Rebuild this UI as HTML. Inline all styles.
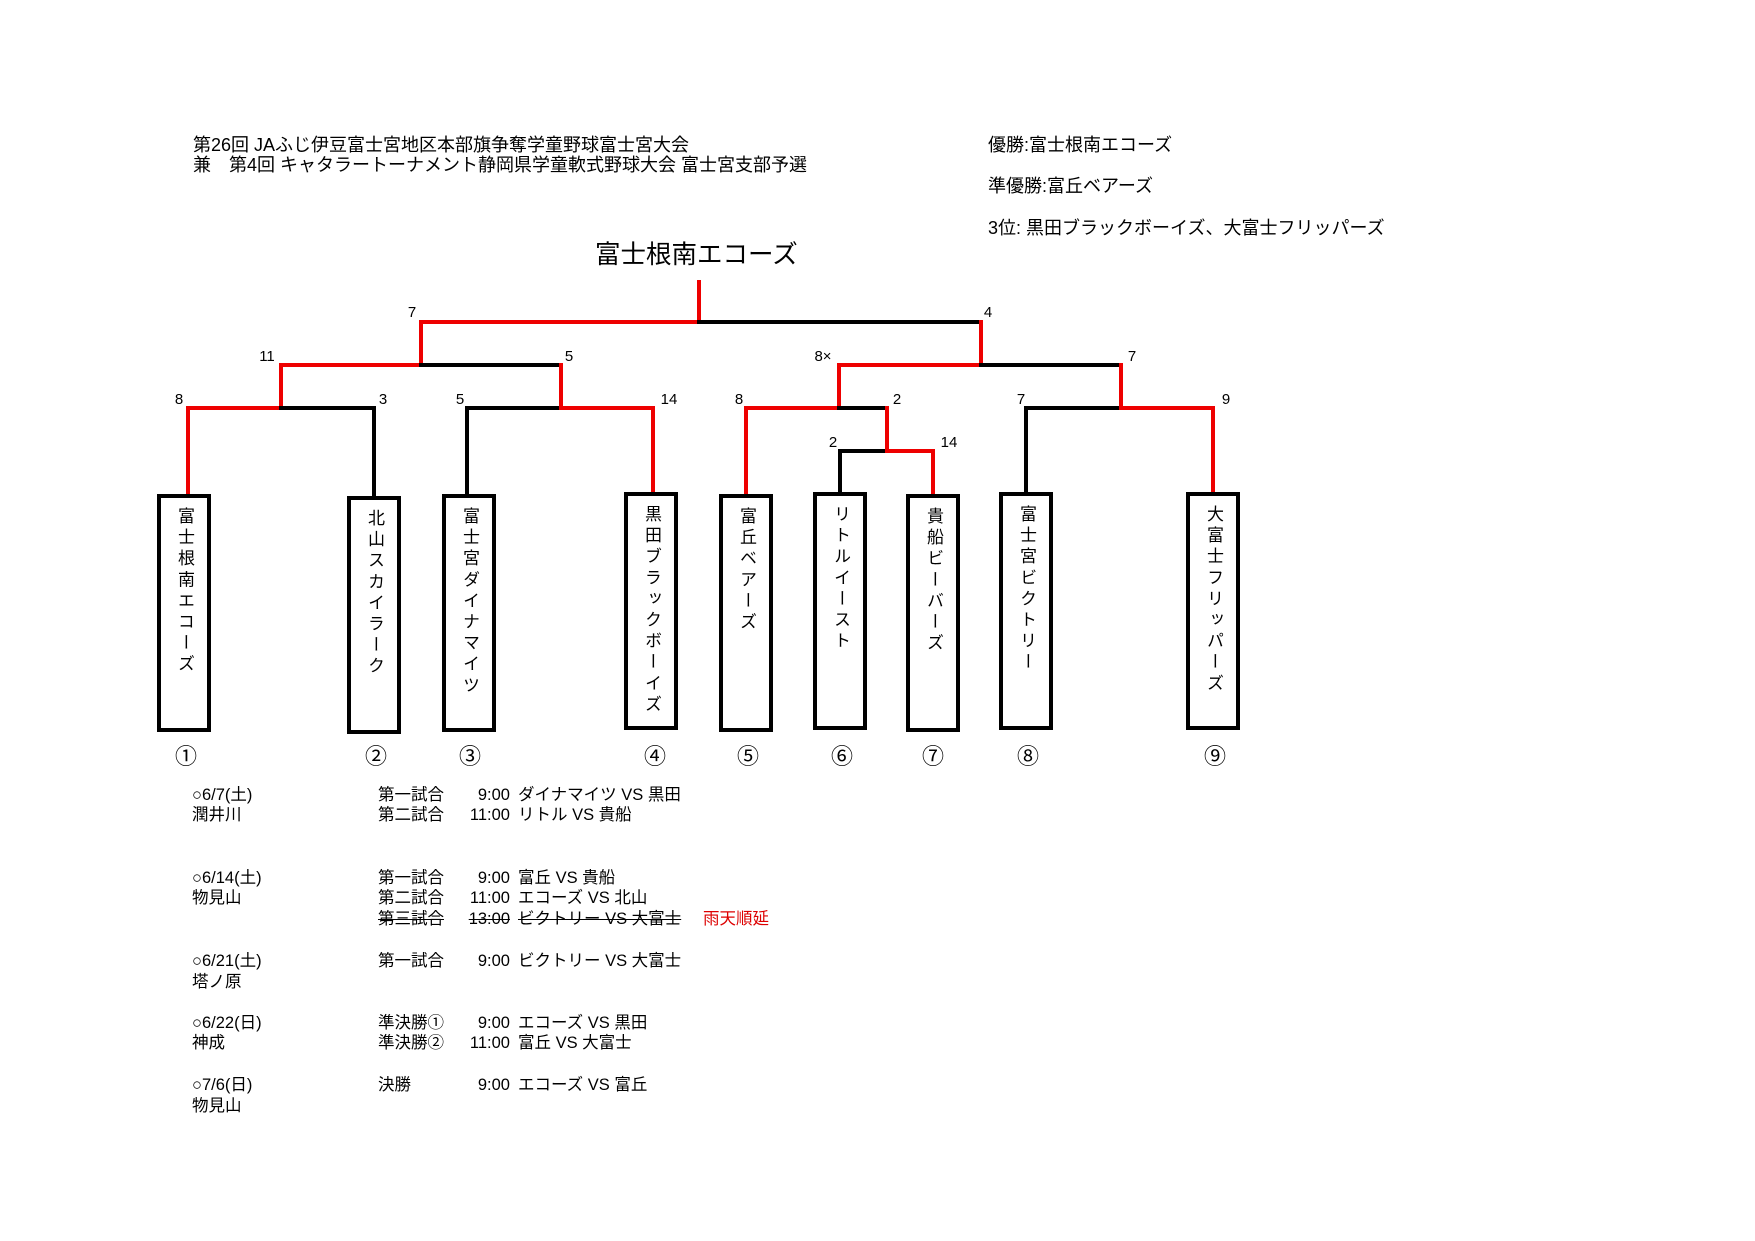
<!DOCTYPE html>
<html><head><meta charset="utf-8"><style>
body{margin:0;width:1755px;height:1241px;background:#fff;position:relative;overflow:hidden;font-family:"Liberation Sans","Noto Sans CJK JP",sans-serif;color:#000}
.t{position:absolute;white-space:nowrap;font-size:18px;line-height:20px}
.box{position:absolute;width:46px;height:230px;border:4px solid #000;top:494px;box-sizing:content-box}
.box div{writing-mode:vertical-rl;font-size:17px;letter-spacing:4.1px;position:absolute;left:50%;top:9px;transform:translateX(-50%);line-height:22px}
.c{position:absolute;font-size:22px;top:739px;width:40px;text-align:center}
.s{position:absolute;font-size:16.5px;line-height:20px;white-space:nowrap}
svg{position:absolute;left:0;top:0}
</style></head><body>
<div class="t" style="left:193px;top:135px">第26回 JAふじ伊豆富士宮地区本部旗争奪学童野球富士宮大会</div>
<div class="t" style="left:193px;top:155px">兼　第4回 キャタラートーナメント静岡県学童軟式野球大会 富士宮支部予選</div>
<div class="t" style="left:988px;top:135px">優勝:富士根南エコーズ</div>
<div class="t" style="left:988px;top:176px">準優勝:富丘ベアーズ</div>
<div class="t" style="left:988px;top:218px">3位:  黒田ブラックボーイズ、大富士フリッパーズ</div>
<div class="t" style="left:595px;top:240px;font-size:25.5px;line-height:30px">富士根南エコーズ</div>
<svg width="1755" height="1241" viewBox="0 0 1755 1241">
<g stroke-width="4" fill="none" stroke-linecap="square">
<line x1="699" y1="282" x2="699" y2="322" stroke="#e00"/>
<line x1="421" y1="322" x2="699" y2="322" stroke="#e00"/>
<line x1="699" y1="322" x2="981" y2="322" stroke="#000"/>
<line x1="421" y1="322" x2="421" y2="365" stroke="#e00"/>
<line x1="981" y1="322" x2="981" y2="365" stroke="#e00"/>
<line x1="281" y1="365" x2="421" y2="365" stroke="#e00"/>
<line x1="421" y1="365" x2="561" y2="365" stroke="#000"/>
<line x1="839" y1="365" x2="981" y2="365" stroke="#e00"/>
<line x1="981" y1="365" x2="1121" y2="365" stroke="#000"/>
<line x1="281" y1="365" x2="281" y2="408" stroke="#e00"/>
<line x1="561" y1="365" x2="561" y2="408" stroke="#e00"/>
<line x1="839" y1="365" x2="839" y2="408" stroke="#e00"/>
<line x1="1121" y1="365" x2="1121" y2="408" stroke="#e00"/>
<line x1="188" y1="408" x2="281" y2="408" stroke="#e00"/>
<line x1="281" y1="408" x2="374" y2="408" stroke="#000"/>
<line x1="467" y1="408" x2="561" y2="408" stroke="#000"/>
<line x1="561" y1="408" x2="653" y2="408" stroke="#e00"/>
<line x1="746" y1="408" x2="839" y2="408" stroke="#e00"/>
<line x1="839" y1="408" x2="887" y2="408" stroke="#000"/>
<line x1="1026" y1="408" x2="1121" y2="408" stroke="#000"/>
<line x1="1121" y1="408" x2="1213" y2="408" stroke="#e00"/>
<line x1="188" y1="408" x2="188" y2="494" stroke="#e00"/>
<line x1="374" y1="408" x2="374" y2="494" stroke="#000"/>
<line x1="467" y1="408" x2="467" y2="494" stroke="#000"/>
<line x1="653" y1="408" x2="653" y2="494" stroke="#e00"/>
<line x1="746" y1="408" x2="746" y2="494" stroke="#e00"/>
<line x1="887" y1="408" x2="887" y2="451" stroke="#e00"/>
<line x1="1026" y1="408" x2="1026" y2="494" stroke="#000"/>
<line x1="1213" y1="408" x2="1213" y2="494" stroke="#e00"/>
<line x1="840" y1="451" x2="887" y2="451" stroke="#000"/>
<line x1="887" y1="451" x2="933" y2="451" stroke="#e00"/>
<line x1="840" y1="451" x2="840" y2="494" stroke="#000"/>
<line x1="933" y1="451" x2="933" y2="494" stroke="#e00"/>
</g>
<g font-family="Liberation Sans, sans-serif" font-size="15" text-anchor="middle">
<text x="412" y="317">7</text><text x="988" y="317">4</text>
<text x="267" y="361">11</text><text x="569" y="361">5</text><text x="823" y="361">8×</text><text x="1132" y="361">7</text>
<text x="179" y="404">8</text><text x="383" y="404">3</text><text x="460" y="404">5</text><text x="669" y="404">14</text>
<text x="739" y="404">8</text><text x="897" y="404">2</text><text x="1021" y="404">7</text><text x="1226" y="404">9</text>
<text x="833" y="447">2</text><text x="949" y="447">14</text>
</g>
</svg>
<div class="box" style="left:157px"><div>富士根南エコーズ</div></div>
<div class="box" style="left:347px;top:496px"><div>北山スカイラーク</div></div>
<div class="box" style="left:442px"><div>富士宮ダイナマイツ</div></div>
<div class="box" style="left:624px;top:492px"><div>黒田ブラックボーイズ</div></div>
<div class="box" style="left:719px"><div>富丘ベアーズ</div></div>
<div class="box" style="left:813px;top:492px"><div>リトルイースト</div></div>
<div class="box" style="left:906px"><div>貴船ビーバーズ</div></div>
<div class="box" style="left:999px;top:492px"><div>富士宮ビクトリー</div></div>
<div class="box" style="left:1186px;top:492px"><div>大富士フリッパーズ</div></div>
<div class="c" style="left:166px">①</div>
<div class="c" style="left:356px">②</div>
<div class="c" style="left:450px">③</div>
<div class="c" style="left:635px">④</div>
<div class="c" style="left:728px">⑤</div>
<div class="c" style="left:822px">⑥</div>
<div class="c" style="left:913px">⑦</div>
<div class="c" style="left:1008px">⑧</div>
<div class="c" style="left:1195px">⑨</div>

<div class="s" style="left:192px;top:785px">○6/7(土)</div>
<div class="s" style="left:192px;top:805px">潤井川</div>
<div class="s" style="left:378px;top:785px">第一試合</div>
<div class="s" style="left:378px;top:805px">第二試合</div>
<div class="s" style="left:430px;top:785px;width:80px;text-align:right">9:00</div>
<div class="s" style="left:430px;top:805px;width:80px;text-align:right">11:00</div>
<div class="s" style="left:518px;top:785px">ダイナマイツ VS 黒田</div>
<div class="s" style="left:518px;top:805px">リトル VS 貴船</div>

<div class="s" style="left:192px;top:868px">○6/14(土)</div>
<div class="s" style="left:192px;top:888px">物見山</div>
<div class="s" style="left:378px;top:868px">第一試合</div>
<div class="s" style="left:378px;top:888px">第二試合</div>
<div class="s" style="left:378px;top:909px;text-decoration:line-through">第三試合</div>
<div class="s" style="left:430px;top:868px;width:80px;text-align:right">9:00</div>
<div class="s" style="left:430px;top:888px;width:80px;text-align:right">11:00</div>
<div class="s" style="left:430px;top:909px;width:80px;text-align:right;text-decoration:line-through">13:00</div>
<div class="s" style="left:518px;top:868px">富丘 VS 貴船</div>
<div class="s" style="left:518px;top:888px">エコーズ VS 北山</div>
<div class="s" style="left:518px;top:909px;text-decoration:line-through">ビクトリー VS 大富士</div>
<div class="s" style="left:703px;top:909px;color:#d00">雨天順延</div>

<div class="s" style="left:192px;top:951px">○6/21(土)</div>
<div class="s" style="left:192px;top:972px">塔ノ原</div>
<div class="s" style="left:378px;top:951px">第一試合</div>
<div class="s" style="left:430px;top:951px;width:80px;text-align:right">9:00</div>
<div class="s" style="left:518px;top:951px">ビクトリー VS 大富士</div>

<div class="s" style="left:192px;top:1013px">○6/22(日)</div>
<div class="s" style="left:192px;top:1033px">神成</div>
<div class="s" style="left:378px;top:1013px">準決勝①</div>
<div class="s" style="left:378px;top:1033px">準決勝②</div>
<div class="s" style="left:430px;top:1013px;width:80px;text-align:right">9:00</div>
<div class="s" style="left:430px;top:1033px;width:80px;text-align:right">11:00</div>
<div class="s" style="left:518px;top:1013px">エコーズ VS 黒田</div>
<div class="s" style="left:518px;top:1033px">富丘 VS 大富士</div>

<div class="s" style="left:192px;top:1075px">○7/6(日)</div>
<div class="s" style="left:192px;top:1096px">物見山</div>
<div class="s" style="left:378px;top:1075px">決勝</div>
<div class="s" style="left:430px;top:1075px;width:80px;text-align:right">9:00</div>
<div class="s" style="left:518px;top:1075px">エコーズ VS 富丘</div>
</body></html>
